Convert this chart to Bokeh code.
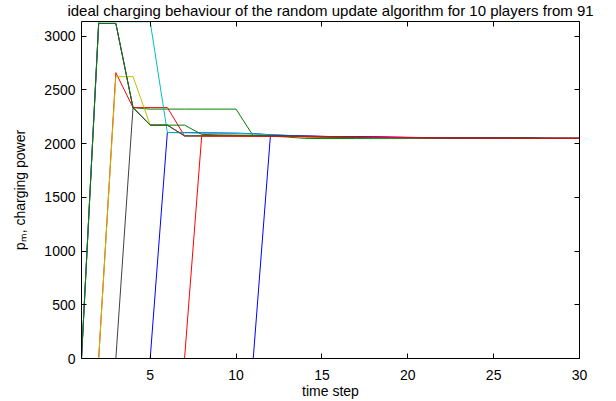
from bokeh.plotting import figure
from bokeh.models import Range1d, LinearAxis, FixedTicker
from bokeh.embed import file_html
from bokeh.resources import INLINE

t = list(range(1, 31))

blue_a = [0, 0, 0, 0, 0, 2102, 2102, 2100, 2098, 2096, 2092, 2082, 2075, 2070, 2066,
          2063, 2060, 2058, 2056, 2054, 2053, 2052, 2051, 2050, 2050, 2049, 2049, 2048, 2048, 2048]
green_a = [0, 3117, 3117, 2334, 2320, 2320, 2320, 2320, 2320, 2320, 2071, 2068, 2060, 2048, 2046,
           2046, 2046, 2046, 2046, 2046, 2056, 2056, 2056, 2056, 2056, 2056, 2056, 2050, 2049, 2048]
red_a = [0, 0, 2659, 2334, 2334, 2334, 2071, 2071, 2071, 2071, 2071, 2072, 2070, 2068, 2066,
         2064, 2062, 2060, 2058, 2056, 2054, 2052, 2051, 2050, 2050, 2049, 2049, 2048, 2048, 2048]
cyan = [0, 3133, 3133, 3133, 3133, 2102, 2100, 2098, 2096, 2094, 2090, 2080, 2075, 2068, 2062,
        2058, 2055, 2053, 2052, 2051, 2050, 2050, 2050, 2049, 2049, 2049, 2048, 2048, 2048, 2048]
magenta = [0, 3117, 3117, 2334, 2171, 2171, 2071, 2071, 2071, 2071, 2071, 2070, 2068, 2066, 2065,
           2064, 2063, 2062, 2060, 2058, 2055, 2052, 2051, 2050, 2050, 2049, 2049, 2048, 2048, 2048]
olive = [0, 0, 2622, 2622, 2171, 2171, 2071, 2071, 2071, 2071, 2071, 2070, 2066, 2062, 2060,
         2058, 2056, 2055, 2054, 2053, 2052, 2051, 2050, 2050, 2049, 2049, 2048, 2048, 2048, 2048]
gray = [0, 0, 0, 2334, 2171, 2171, 2071, 2071, 2071, 2071, 2071, 2070, 2067, 2063, 2060,
        2058, 2056, 2055, 2054, 2053, 2052, 2051, 2050, 2050, 2049, 2049, 2048, 2048, 2048, 2048]
blue_b = [0, 0, 0, 0, 0, 0, 0, 0, 0, 0, 0, 2071, 2070, 2068, 2066,
          2064, 2062, 2060, 2058, 2056, 2054, 2052, 2051, 2050, 2050, 2049, 2049, 2048, 2048, 2048]
green_b = [0, 3117, 3117, 2334, 2171, 2171, 2171, 2085, 2080, 2078, 2076, 2072, 2068, 2064, 2062,
           2060, 2058, 2056, 2055, 2054, 2053, 2052, 2051, 2050, 2050, 2049, 2049, 2048, 2048, 2048]
red_b = [0, 0, 0, 0, 0, 0, 0, 2071, 2070, 2069, 2068, 2067, 2066, 2065, 2064,
         2062, 2060, 2058, 2056, 2054, 2053, 2052, 2051, 2050, 2050, 2049, 2049, 2048, 2048, 2048]

series = [blue_a, green_a, red_a, cyan, magenta, olive, gray, blue_b, green_b, red_b]
colors = ["#0000ff", "#008000", "#ff0000", "#00bfbf", "#bf00bf",
          "#bfbf00", "#404040", "#0000ff", "#008000", "#ff0000"]

x_ticks = [5, 10, 15, 20, 25, 30]
y_ticks = [0, 500, 1000, 1500, 2000, 2500, 3000]
title_text = "ideal charging behaviour of the random update algorithm for 10 players from 91"

FONT = "Liberation Sans"

p = figure(width=616, height=401, output_backend="svg", toolbar_location=None,
           x_range=Range1d(1, 30), y_range=Range1d(0, 3135),
           min_border_left=81, min_border_right=37, min_border_top=21, min_border_bottom=43)
p.outline_line_color = None
p.grid.visible = False
p.background_fill_color = "white"
p.border_fill_color = "white"

p.title.text = title_text
p.title.align = "center"
p.title.vertical_align = "top"
p.title.text_font = FONT
p.title.text_font_size = "15px"
p.title.text_font_style = "normal"
p.title.text_color = "black"
p.title.standoff = 1
p.title.offset = 0

for ys, c in zip(series, colors):
    p.line(t, ys, line_color=c, line_width=1)

def style(ax, labels=True):
    ax.axis_line_color = "black"
    ax.axis_line_width = 1
    ax.major_tick_in = 5
    ax.major_tick_out = 0
    ax.minor_tick_line_color = None
    ax.major_tick_line_color = "black"
    ax.major_label_text_font = FONT
    ax.major_label_text_font_size = "14px"
    ax.major_label_text_color = "black"
    ax.axis_label_text_font = FONT
    ax.axis_label_text_font_size = "14px"
    ax.axis_label_text_font_style = "normal"
    ax.axis_label_text_color = "black"
    if not labels:
        ax.major_label_text_font_size = "0px"
        ax.major_label_text_alpha = 0
        ax.major_label_standoff = 0

xa = p.xaxis[0]
xa.ticker = FixedTicker(ticks=x_ticks)
style(xa)
xa.major_label_standoff = 11
xa.axis_label = "time step"
xa.axis_label_standoff = 0

ya = p.yaxis[0]
ya.ticker = FixedTicker(ticks=y_ticks)
style(ya)
ya.major_label_standoff = 6
ya.axis_label = "pₘ, charging power"
ya.axis_label_standoff = 13

top = LinearAxis(ticker=FixedTicker(ticks=x_ticks))
style(top, labels=False)
p.add_layout(top, "above")
right = LinearAxis(ticker=FixedTicker(ticks=y_ticks))
style(right, labels=False)
p.add_layout(right, "right")

open("out.html", "w").write(file_html(p, INLINE))
